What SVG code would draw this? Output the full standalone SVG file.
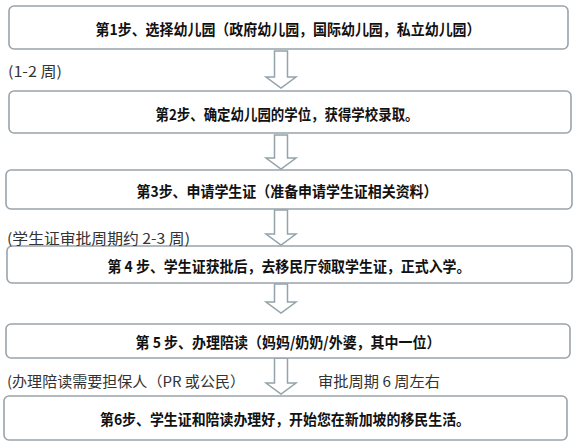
<svg xmlns="http://www.w3.org/2000/svg" width="579" height="448" viewBox="0 0 579 448">
<style>
.box{fill:#fff;stroke:#9aa4aa;stroke-width:1.6}
.t{font-family:"Noto Sans CJK SC","Liberation Sans",sans-serif;font-size:15px;font-weight:bold;fill:#111;text-anchor:middle;dominant-baseline:central}
.l{font-family:"Noto Sans CJK SC","Liberation Sans",sans-serif;font-size:14.5px;fill:#333;dominant-baseline:central}
.arr{fill:#fff;stroke:#93a3aa;stroke-width:1.5;stroke-linejoin:miter}
</style>
<rect width="579" height="448" fill="#fff"/>
<g id="connectors">
<path class="arr" d="M274.5,51 H287.5 V77 H296 L281,88 L266,77 H274.5 Z"/>
<path class="arr" d="M274.5,135 H287.5 V158 H296 L281,169 L266,158 H274.5 Z"/>
<path class="arr" d="M274.5,210 H287.5 V234 H296 L281,245 L266,234 H274.5 Z"/>
<path class="arr" d="M274.5,284 H287.5 V302 H296 L281,313 L266,302 H274.5 Z"/>
<path class="arr" d="M274.5,358 H287.5 V383 H296 L281,394 L266,383 H274.5 Z"/>
</g>
<g id="step1"><rect class="box" x="9" y="6" width="559" height="43" rx="5"/><text class="t" x="288" y="28" textLength="385" lengthAdjust="spacingAndGlyphs">第1步、选择幼儿园（政府幼儿园，国际幼儿园，私立幼儿园）</text></g>
<g id="step2"><rect class="box" x="9" y="91" width="562" height="42" rx="5"/><text class="t" x="287" y="113" textLength="263" lengthAdjust="spacingAndGlyphs">第2步、确定幼儿园的学位，获得学校录取。</text></g>
<g id="step3"><rect class="box" x="6" y="170" width="566" height="39" rx="5"/><text class="t" x="287" y="190" textLength="301" lengthAdjust="spacingAndGlyphs">第3步、申请学生证（准备申请学生证相关资料）</text></g>
<g id="step4"><rect class="box" x="7" y="246" width="565" height="37" rx="5"/><text class="t" x="289" y="265" textLength="363" lengthAdjust="spacingAndGlyphs">第 4 步、学生证获批后，去移民厅领取学生证，正式入学。</text></g>
<g id="step5"><rect class="box" x="6" y="324" width="564" height="34" rx="5"/><text class="t" x="288" y="341" textLength="305" lengthAdjust="spacingAndGlyphs">第 5 步、办理陪读（妈妈/奶奶/外婆，其中一位）</text></g>
<g id="step6"><rect class="box" x="4" y="396" width="563" height="44" rx="5"/><text class="t" x="285" y="418" textLength="370" lengthAdjust="spacingAndGlyphs">第6步、学生证和陪读办理好，开始您在新加坡的移民生活。</text></g>
<g id="labels">
<text class="l" x="8" y="70" textLength="54" lengthAdjust="spacingAndGlyphs">(1-2 周)</text>
<text class="l" x="7" y="237" textLength="183" lengthAdjust="spacingAndGlyphs">(学生证审批周期约 2-3 周)</text>
<text class="l" x="7" y="380" textLength="238" lengthAdjust="spacingAndGlyphs">(办理陪读需要担保人（PR 或公民）</text>
<text class="l" x="318" y="380" textLength="122" lengthAdjust="spacingAndGlyphs">审批周期 6 周左右</text>
</g>
</svg>
